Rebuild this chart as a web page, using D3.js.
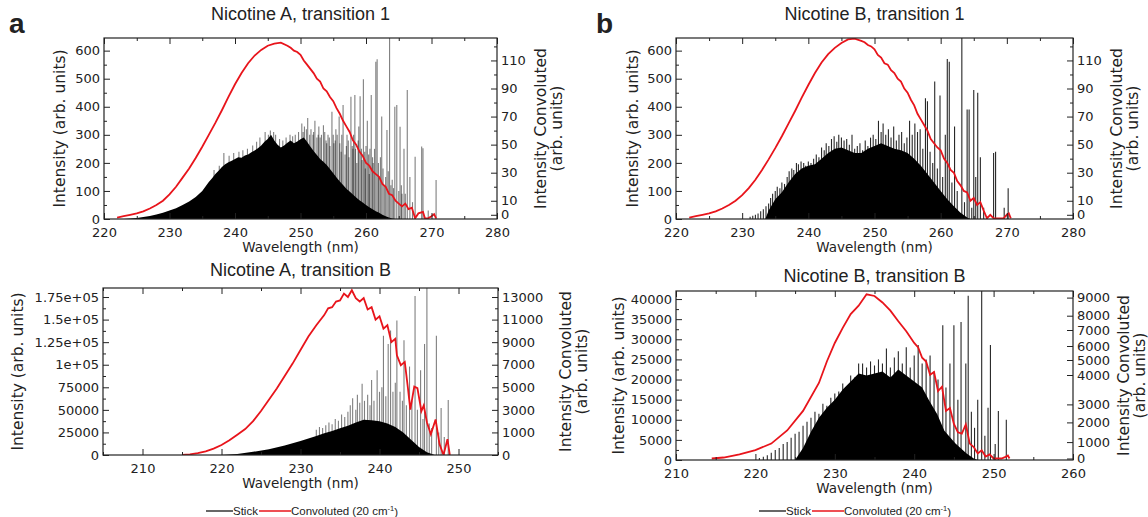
<!DOCTYPE html>
<html>
<head>
<meta charset="utf-8">
<script src="https://cdn.jsdelivr.net/npm/d3@7"></script>
<style>
  body { margin: 0; background: #fff; }
  svg text { font-family: "DejaVu Sans", sans-serif; fill: #222; }
  .title, .legend text, .letter { font-family: "Liberation Sans", Arial, sans-serif; }
</style>
</head>
<body>
<svg id="fig" width="1148" height="517"></svg>
<script>
// ---- Nicotine A, transition 1 ----
var a1Env = [[223,0],[224,2],[225,4],[226,7],[227,11],[228,16],[229,22],[230,30],[231,38],[232,50],[233,62],[234,78],[235,100],[236,132],[236.5,145],[237,160],[237.5,172],[238,185],[238.5,195],[239,202],[239.5,208],[240,214],[240.5,220],[241,218],[241.5,226],[242,230],[242.5,238],[243,244],[243.5,252],[244,262],[244.5,275],[245,285],[245.5,300],[246,280],[246.5,265],[247,255],[247.5,262],[248,272],[248.5,280],[249,270],[249.5,276],[250,284],[250.5,290],[251,275],[251.5,258],[252,242],[252.5,228],[253,214],[253.5,204],[254,192],[254.5,178],[255,163],[255.5,148],[256,134],[256.5,121],[257,108],[257.5,98],[258,87],[258.5,77],[259,67],[259.5,59],[260,50],[260.5,42],[261,35],[261.5,28],[262,22],[262.5,15],[263,10],[263.5,5],[264,2],[264.5,0]];
var a1Sticks = [[236.8,175],[237.6,190],[238.3,235],[239.1,225],[239.8,235],[240.6,240],[241.2,245],[241.9,250],[242.7,262],[243.3,275],[243.8,290],[244.6,310],[245.1,300],[245.4,315],[245.9,310],[246.2,300],[246.8,285],[247.3,280],[247.8,290],[248.4,300],[248.8,295],[249.2,300],[249.7,310],[250.2,340],[250.4,310],[250.6,330],[250.9,320],[251.1,360],[251.4,300],[251.6,320],[251.9,300],[252,310],[252.2,350],[252.5,290],[252.7,300],[252.8,330],[253,290],[253.2,300],[253.5,334],[253.7,310],[253.9,280],[254,270],[254.2,300],[254.4,290],[254.5,260],[254.8,382],[255,300],[255.1,270],[255.3,280],[255.4,320],[255.6,300],[255.9,365],[256,270],[256.2,240],[256.3,300],[256.5,406],[256.8,230],[257,260],[257.1,300],[257.3,280],[257.4,220],[257.7,436],[257.9,260],[258,250],[258.1,300],[258.3,442],[258.4,250],[258.6,200],[258.8,280],[258.9,330],[259.1,437],[259.3,250],[259.4,210],[259.6,498],[259.8,240],[259.9,180],[260,260],[260.2,350],[260.4,230],[260.5,160],[260.6,250],[260.8,442],[261,220],[261.1,200],[261.3,250],[261.5,560],[261.7,569],[261.9,200],[262,150],[262.2,220],[262.4,365],[262.6,180],[262.8,120],[263,150],[263.2,317],[263.4,170],[263.6,660],[263.8,120],[264,140],[264.2,110],[264.4,400],[264.7,406],[265,100],[265.2,329],[265.4,120],[265.5,90],[265.8,250],[266,90],[266.3,460],[266.7,150],[267.1,60],[267.5,222],[268.5,258],[268.7,252],[269.5,30],[270.7,139]];
var a1Conv = [[222,-2],[223,-1],[224,0],[225,1],[226,2.5],[227,4.5],[228,7],[229,10],[230,14.5],[231,20],[232,26.5],[233,33],[234,40.5],[235,48.5],[236,57],[237,65.5],[238,74.5],[239,84],[240,93],[241,101],[242,108],[243,113.5],[244,117.5],[245,120.5],[246,122],[247,122.7],[248,120.5],[248.5,119],[249,117],[249.5,116],[250,114],[250.5,110],[251,107],[251.5,104],[252,101],[252.5,97],[253,95],[253.5,90],[254,88],[254.5,84],[255,81],[255.5,76],[256,72],[256.5,67],[257,63],[257.5,59],[258,53],[258.5,50],[259,45],[259.5,42],[260,37],[260.5,35],[261,31],[261.5,29],[262,27],[262.5,22],[263,20],[263.5,15],[264,14],[264.5,10],[265,8],[265.5,6],[266,8],[266.5,4],[267,5],[267.5,-2.5],[268,1],[268.7,2],[269,-2.5],[269.5,-2.5],[270,-1],[270.4,0.5],[270.7,-2.5]];

// ---- Nicotine B, transition 1 ----
var b1Env = [[233.5,0],[234,30],[235,70],[236,95],[237,130],[238,160],[239,180],[240,190],[241,195],[242,215],[243,235],[244,250],[245,255],[246,245],[247,235],[248,235],[249,250],[250,260],[251,270],[252,260],[253,250],[254,245],[255,235],[256,215],[257,190],[258,160],[259,130],[260,100],[261,70],[262,45],[263,22],[264,5],[264.5,0]];
var b1Sticks = [[231.2,8],[231.6,12],[232,15],[232.4,20],[232.8,28],[233.2,35],[233.6,45],[234,55],[234.3,75],[234.6,90],[235,100],[235.3,115],[235.7,110],[236,130],[236.4,125],[236.8,150],[237.1,170],[237.5,180],[237.8,175],[238.2,200],[238.5,195],[238.9,205],[239.3,200],[239.6,190],[240,205],[240.4,200],[240.8,215],[241.2,230],[241.6,220],[242,255],[242.4,245],[242.7,270],[243.1,260],[243.5,285],[243.9,295],[244.3,275],[244.6,300],[245,290],[245.4,280],[245.8,285],[246.2,265],[246.6,300],[247,250],[247.4,260],[247.8,270],[248.2,245],[248.6,280],[249,260],[249.4,290],[249.8,300],[250.2,285],[250.6,350],[251,310],[251.3,340],[251.7,300],[252.1,320],[252.5,290],[252.9,330],[253.3,280],[253.7,300],[254.1,310],[254.5,270],[254.9,290],[255.3,350],[255.7,300],[256.1,340],[256.5,310],[256.9,320],[257.3,250],[257.7,430],[258,420],[258.4,240],[258.8,200],[259.1,490],[259.5,180],[259.9,440],[260.3,150],[260.7,300],[261,570],[261.3,560],[261.7,130],[262.1,330],[262.5,100],[263.2,660],[263.6,60],[264,390],[264.3,390],[264.7,40],[265,460],[265.3,150],[265.6,450],[266,220],[266.5,40],[267,10],[268,235],[268.3,240],[269.6,40],[270.2,110]];
var b1Conv = [[222,-2],[223,-1],[224,0],[225,1],[226,2.5],[227,4.5],[228,7],[229,10],[230,14],[231,19],[232,25],[233,32],[234,39.5],[235,47.5],[236,56],[237,65],[238,74],[239,83.5],[240,92.5],[241,101],[242,108.5],[243,114.5],[244,119],[245,122.5],[246,125],[247,125.5],[248,124],[248.5,123],[249,121],[249.5,120],[250,118],[250.5,114],[251,112],[251.5,108],[252,107],[252.5,103],[253,101],[253.5,97],[254,95],[254.5,90],[255,87],[255.5,82],[256,78],[256.5,72],[257,68],[257.5,64],[258,60],[258.5,54],[259,51],[259.5,48],[260,46],[260.5,40],[261,37],[261.5,32],[262,30],[262.5,24],[263,21],[263.5,17],[264,16],[264.5,10],[265,12],[265.5,7],[266,9],[266.5,3],[267,-2.5],[267.5,0],[268,-2.5],[268.5,-2.5],[269,-2.5],[269.5,-2.5],[270,0],[270.3,1],[270.6,-2.5]];

// ---- Nicotine A, transition B ----
var a2Env = [[220,0],[222,1200],[224,3500],[226,6500],[228,10500],[230,15500],[232,21000],[233,24000],[234,26500],[235,29500],[236,32500],[237,36000],[238,39000],[239,38500],[240,37500],[241,35000],[242,31000],[243,25000],[244,17000],[245,9000],[246,3000],[247,0]];
var a2Sticks = [[232,28000],[232.4,31000],[232.8,30000],[233.2,33000],[233.6,36000],[234,34000],[234.4,40000],[234.8,38000],[235.2,45000],[235.6,42000],[236,48000],[236.3,55000],[236.6,63000],[237,50000],[237.2,66700],[237.5,58000],[237.8,79000],[238.1,60000],[238.5,66700],[238.8,55000],[239,83000],[239.3,60000],[239.7,94000],[240,70000],[240.3,75000],[240.5,132000],[240.8,65000],[241.1,123000],[241.4,138000],[241.7,70000],[242,80000],[242.2,149000],[242.6,70000],[242.9,60000],[243.1,127000],[243.4,55000],[243.8,98000],[244.1,60000],[244.5,176000],[244.8,50000],[245.2,94000],[245.5,40000],[245.7,123000],[246,190000],[246.3,35000],[246.6,30000],[247.2,132000],[247.5,25000],[247.8,52000],[248.2,20000],[248.7,61000]];
var a2Conv = [[215,0],[216,30],[217,80],[218,160],[219,280],[220,440],[221,650],[222,900],[223,1300],[224,2000],[225,2900],[226,3900],[227,4900],[228,6000],[229,7100],[230,8300],[231,9500],[232,10500],[233,11400],[233.5,12000],[234,12100],[234.5,12600],[235,12700],[235.5,13300],[236,13000],[236.5,13600],[237,12900],[237.5,12600],[238,12900],[238.5,11900],[239,12100],[239.5,11000],[240,11300],[240.5,10200],[241,10500],[241.5,9000],[242,9300],[242.2,7840],[242.7,6960],[243.2,7250],[243.6,4920],[243.9,3020],[244.4,5060],[244.8,4920],[245.3,2880],[245.6,3400],[246,1900],[246.5,920],[247.1,2150],[247.6,480],[248.1,0],[248.6,700],[248.9,0]];

// ---- Nicotine B, transition B ----
var b2Env = [[225,0],[226,3000],[227,7000],[228,10500],[229,13000],[230,15000],[231,17500],[232,19500],[233,21500],[234,21000],[235,21500],[236,22000],[237,20500],[238,22500],[239,21000],[240,19500],[241,18000],[241.9,14700],[242.9,11400],[243.8,7300],[245.2,4100],[246.6,1600],[247.5,400],[248,0]];
var b2Sticks = [[220.5,500],[221,800],[221.5,1200],[222,1800],[222.5,2500],[223,3000],[223.5,4000],[224,4500],[224.5,5500],[225,6500],[225.5,7000],[226,8500],[226.5,9500],[227,10500],[227.5,12000],[228,11500],[228.5,14000],[229,13500],[229.5,15500],[230,16500],[230.5,17000],[231,19000],[231.5,18000],[232,21000],[232.5,20500],[233,24000],[233.5,24000],[234,23000],[234.5,24500],[235,23500],[235.5,25000],[236,24000],[236.5,27700],[237,23000],[237.5,25500],[238,27000],[238.5,24000],[239,28000],[239.5,23000],[240,26000],[240.5,28600],[241,24000],[241.5,25000],[242,26000],[242.5,22000],[243,20000],[243.6,33500],[244,18000],[244.5,24000],[245,33500],[245.5,15000],[245.9,34300],[246.5,24000],[246.8,40800],[247.2,12000],[247.6,8000],[248,15000],[248.5,43000],[248.9,6000],[249.3,13000],[249.6,28600],[250.2,4000],[250.6,12200],[251.6,10000]];
var b2Conv = [[214.5,0],[216,60],[218,250],[220,512],[222,910],[224,1590],[226,2640],[228,3730],[229,4900],[230,6190],[231,7150],[232,8090],[233,8550],[234,9180],[235,9090],[236,8730],[237,8280],[238,7610],[239,6920],[240,6190],[240.5,5900],[241,5160],[241.5,4900],[242,4010],[242.5,4200],[243,3450],[243.5,3600],[244,2640],[244.5,2800],[245,1920],[245.5,1500],[246,1430],[246.5,1900],[247,910],[247.5,700],[248,310],[248.5,500],[249,120],[249.5,250],[250,0],[251,0],[251.5,100],[251.8,180],[252,0]];
var b2RightTicks = [0, 1000, 2000, 3000, 4000, 5000, 6000, 7000, 8000, 9000];
var b2RightPos = [458.5, 442.1, 422.4, 404.4, 375, 360, 346, 330, 315.7, 297.6];

var a2LeftTicks = [0, 25000, 50000, 75000, 100000, 125000, 150000, 175000];
var a2RightTicks = [0, 1000, 3000, 5000, 7000, 9000, 11000, 13000];

var legendItems = ["Stick", "Convoluted (20 cm"];

var svg = d3.select("#fig");

function panel(cfg) {
  var g = svg.append("g");
  var x = d3.scaleLinear().domain(cfg.xDomain).range([cfg.left, cfg.right]);
  var y = d3.scaleLinear().domain(cfg.yDomain).range([cfg.bottom, cfg.top]);
  var y2 = d3.scaleLinear().domain(cfg.y2Domain).range(cfg.y2Range || [cfg.bottom, cfg.top]);

  var clipId = "clip" + cfg.id;
  g.append("clipPath").attr("id", clipId)
    .append("rect")
    .attr("x", cfg.left).attr("y", cfg.top)
    .attr("width", cfg.right - cfg.left).attr("height", cfg.bottom - cfg.top);

  var plot = g.append("g").attr("clip-path", "url(#" + clipId + ")");

  plot.append("path")
    .datum(cfg.env)
    .attr("fill", "#000")
    .attr("d", d3.area()
      .x(function (d) { return x(d[0]); })
      .y0(y(0))
      .y1(function (d) { return y(d[1]); }));

  plot.selectAll("line.stick")
    .data(cfg.sticks)
    .enter()
    .append("line")
    .attr("class", "stick")
    .attr("x1", function (d) { return x(d[0]); })
    .attr("x2", function (d) { return x(d[0]); })
    .attr("y1", y(0))
    .attr("y2", function (d) { return y(d[1]); })
    .attr("stroke", "#000")
    .attr("stroke-opacity", cfg.stickOpacity)
    .attr("stroke-width", 1.1);

  plot.append("path")
    .datum(cfg.conv)
    .attr("fill", "none")
    .attr("stroke", "#e8141b")
    .attr("stroke-width", 1.8)
    .attr("d", d3.line()
      .x(function (d) { return x(d[0]); })
      .y(function (d) { return y2(d[1]); }));

  // axes, ticks pointing inward like the original
  function axis(gen, tx, ty, vals, size, fmt) {
    var a = gen.tickValues(vals).tickSize(-size).tickPadding(4);
    a.tickFormat(fmt || "");
    var ga = g.append("g").attr("transform", "translate(" + tx + "," + ty + ")").call(a);
    ga.select(".domain").remove();
    ga.selectAll("line").attr("stroke", "#222");
    ga.selectAll("text").attr("font-size", 13).attr("fill", "#222");
    return ga;
  }
  var plain = function (d) { return d; };
  axis(d3.axisBottom(x), 0, cfg.bottom, cfg.xMajor, 6, plain).selectAll("text").attr("dy", "1.05em");
  axis(d3.axisBottom(x), 0, cfg.bottom, cfg.xMinor, 3);
  axis(d3.axisTop(x), 0, cfg.top, cfg.xMajor, 6);
  axis(d3.axisTop(x), 0, cfg.top, cfg.xMinor, 3);
  axis(d3.axisLeft(y), cfg.left, 0, cfg.yMajor, 6, cfg.yFormat || plain);
  axis(d3.axisLeft(y), cfg.left, 0, cfg.yMinor, 3);
  axis(d3.axisRight(y2), cfg.right, 0, cfg.y2Major, 6, plain);
  axis(d3.axisRight(y2), cfg.right, 0, cfg.y2Minor, 3);

  g.append("rect")
    .attr("x", cfg.left).attr("y", cfg.top)
    .attr("width", cfg.right - cfg.left).attr("height", cfg.bottom - cfg.top)
    .attr("fill", "none").attr("stroke", "#222").attr("stroke-width", 1.2);

  var cx = (cfg.left + cfg.right) / 2, cy = (cfg.top + cfg.bottom) / 2;
  g.append("text").attr("class", "title")
    .attr("x", cx).attr("y", cfg.titleY)
    .attr("text-anchor", "middle").attr("font-size", 18)
    .text(cfg.title);
  g.append("text")
    .attr("x", cx).attr("y", cfg.bottom + 33)
    .attr("text-anchor", "middle").attr("font-size", 13.5)
    .text("Wavelength (nm)");
  g.append("text")
    .attr("transform", "translate(" + cfg.yTitleX + "," + cy + ") rotate(-90)")
    .attr("text-anchor", "middle").attr("dy", "0.35em").attr("font-size", 15.5)
    .text("Intensity (arb. units)");
  g.append("text")
    .attr("transform", "translate(" + cfg.y2TitleX + "," + cy + ") rotate(-90)")
    .attr("text-anchor", "middle").attr("dy", "0.35em").attr("font-size", 15.5)
    .text("Intensity Convoluted");
  g.append("text")
    .attr("transform", "translate(" + (cfg.y2TitleX + 16) + "," + cy + ") rotate(-90)")
    .attr("text-anchor", "middle").attr("dy", "0.35em").attr("font-size", 15.5)
    .text("(arb. units)");
}

function ticks(start, stop, step) {
  return d3.range(start, stop + step / 2, step);
}

var sciFmt = function (d) {
  if (d === 0) return "0";
  if (d < 100000) return d;
  return (d / 100000) + "e+05";
};

panel({
  id: "a1", title: "Nicotine A, transition 1", titleY: 20,
  left: 104, right: 497, top: 38, bottom: 219,
  xDomain: [220, 280], xMajor: ticks(220, 280, 10), xMinor: ticks(225, 275, 10),
  yDomain: [0, 645], yMajor: ticks(0, 600, 100), yMinor: ticks(50, 600, 100),
  y2Domain: [-3, 126], y2Major: [0, 10, 30, 50, 70, 90, 110], y2Minor: [20, 40, 60, 80, 100, 120],
  env: a1Env, sticks: a1Sticks, conv: a1Conv, stickOpacity: 0.5,
  yTitleX: 60, y2TitleX: 541
});

panel({
  id: "b1", title: "Nicotine B, transition 1", titleY: 20,
  left: 676, right: 1073, top: 38, bottom: 219,
  xDomain: [220, 280], xMajor: ticks(220, 280, 10), xMinor: ticks(225, 275, 10),
  yDomain: [0, 645], yMajor: ticks(0, 600, 100), yMinor: ticks(50, 600, 100),
  y2Domain: [-3, 126], y2Major: [0, 10, 30, 50, 70, 90, 110], y2Minor: [20, 40, 60, 80, 100, 120],
  env: b1Env, sticks: b1Sticks, conv: b1Conv, stickOpacity: 0.85,
  yTitleX: 633, y2TitleX: 1117
});

var a2y = d3.scaleLinear().domain([0, 185000]).range([455, 288]);

panel({
  id: "a2", title: "Nicotine A, transition B", titleY: 276,
  left: 103, right: 498, top: 288, bottom: 455,
  xDomain: [205, 255], xMajor: ticks(210, 250, 10), xMinor: ticks(205, 255, 10),
  yDomain: [0, 185000], yMajor: a2LeftTicks, yMinor: ticks(12500, 175000, 25000), yFormat: sciFmt,
  y2Domain: a2RightTicks, y2Range: a2LeftTicks.map(a2y),
  y2Major: a2RightTicks, y2Minor: [500, 2000, 4000, 6000, 8000, 10000, 12000],
  env: a2Env, sticks: a2Sticks, conv: a2Conv, stickOpacity: 0.5,
  yTitleX: 18, y2TitleX: 566
});

panel({
  id: "b2", title: "Nicotine B, transition B", titleY: 282,
  left: 676, right: 1073, top: 291, bottom: 460,
  xDomain: [210, 260], xMajor: ticks(210, 260, 10), xMinor: ticks(215, 255, 10),
  yDomain: [0, 42000], yMajor: ticks(0, 40000, 5000), yMinor: ticks(2500, 40000, 5000),
  y2Domain: b2RightTicks, y2Range: b2RightPos, y2Major: b2RightTicks, y2Minor: [],
  env: b2Env, sticks: b2Sticks, conv: b2Conv, stickOpacity: 0.85,
  yTitleX: 619, y2TitleX: 1124
});

// panel letters
svg.append("text").attr("class", "letter").attr("x", 9).attr("y", 33)
  .attr("font-size", 28).attr("font-weight", "bold").attr("fill", "#000").text("a");
svg.append("text").attr("class", "letter").attr("x", 596).attr("y", 33)
  .attr("font-size", 28).attr("font-weight", "bold").attr("fill", "#000").text("b");

// legends
function legend(x0, y0) {
  var g = svg.append("g").attr("class", "legend").attr("transform", "translate(" + x0 + "," + y0 + ")");
  g.append("line").attr("x1", 0).attr("x2", 27).attr("stroke", "#000").attr("stroke-width", 1.2);
  g.append("text").attr("x", 27).attr("dy", "0.35em").attr("font-size", 11.5).text(legendItems[0]);
  g.append("line").attr("x1", 53).attr("x2", 85).attr("stroke", "#e8141b").attr("stroke-width", 1.5);
  var t = g.append("text").attr("x", 85).attr("dy", "0.35em").attr("font-size", 11.5).text(legendItems[1]);
  t.append("tspan").attr("font-size", 7.5).attr("dy", "-0.55em").text("-1");
  t.append("tspan").attr("dy", "0.4em").text(")");
}
legend(206, 511);
legend(759, 511);
</script>
</body>
</html>
